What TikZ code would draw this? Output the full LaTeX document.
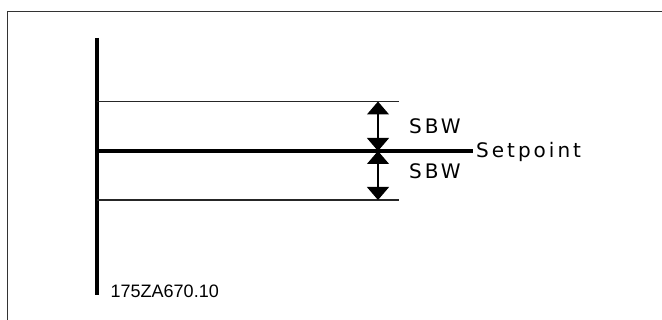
\documentclass[tikz,border=0pt]{standalone}
\usepackage{fontspec}
\setmainfont{DejaVu Sans}
\newfontfamily\widefont[LetterSpace=15]{DejaVu Sans}
\newfontfamily\codefont{Liberation Sans}
\usetikzlibrary{arrows.meta,positioning}

\begin{document}
\begin{tikzpicture}[x=1pt, y=-1pt,
  frame/.style={draw=black!80, line width=1pt},
  axis/.style={line width=4.6pt},
  band/.style={draw=black!85, line width=1.2pt},
  dim/.style={{Triangle[width=22pt,length=13pt]}-{Triangle[width=22pt,length=13pt]}, line width=1.2pt},
  lbl/.style={font=\widefont\fontsize{20}{22}\selectfont, inner sep=0pt}]
\useasboundingbox (0,0) rectangle (662,320);
% frame (only top and left edges show)
\draw[frame] (7.5,320) -- (7.5,12) -- (662,12);
% axis and band lines
\coordinate (top) at (97,38);
\coordinate (bot) at (97,295);
\coordinate (hi) at (97,101.5);
\coordinate (sp) at (97,151);
\coordinate (lo) at (97,200);
\coordinate (hiend) at (399,101.5);
\coordinate (spend) at (473,151);
\coordinate (loend) at (399,200);
\coordinate (ahi) at (378,101.5);
\coordinate (asp) at (378,151);
\coordinate (alo) at (378,200);
\draw[axis] (top) -- (bot);
\draw[band] (hi) -- (hiend);
\draw[band] (lo) -- (loend);
\draw[line width=4pt] (sp) -- (spend);
\draw[dim] (ahi) -- (asp);
\draw[dim] (asp) -- (alo);
% labels
\node[lbl, anchor=west] (sbwhi) at (409,126) {SBW};
\node[lbl, anchor=west] (sbwlo) at (409,171.7) {SBW};
\node[lbl, anchor=base west] (setp) at (476,158) {Setpoint};
\node[font=\codefont\fontsize{18}{20}\selectfont, inner sep=0pt, anchor=base west] (code) at (110.5,297.3) {175ZA670.10};
\end{tikzpicture}
\end{document}
